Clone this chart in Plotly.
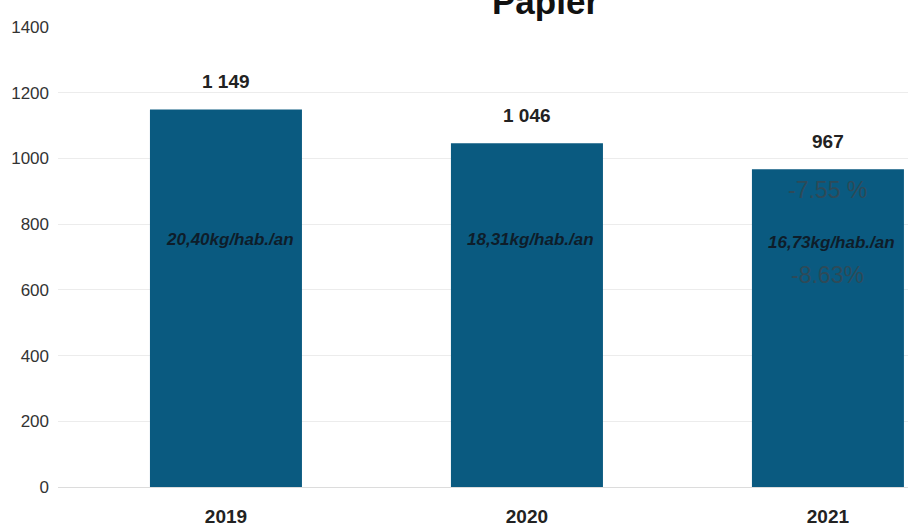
import plotly.graph_objects as go

# Tonnage de papier collecté par année
years = ["2019", "2020", "2021"]
tonnes = [1149, 1046, 967]
value_labels = ["1 149", "1 046", "967"]
per_capita = ["20,40kg/hab./an", "18,31kg/hab./an", "16,73kg/hab./an"]
per_capita_y = [752, 752, 743]
y_ticks = [0, 200, 400, 600, 800, 1000, 1200, 1400]

bar_color = "#0a5a80"
narrow = "Liberation Sans Narrow, Arial Narrow, sans-serif"

fig = go.Figure()
fig.add_trace(go.Bar(
    x=list(range(len(years))), y=tonnes, width=0.505,
    marker=dict(color=bar_color, line=dict(width=0)),
    hoverinfo="skip",
))

annotations = []
for i, (v, lab) in enumerate(zip(tonnes, value_labels)):
    annotations.append(dict(
        x=i, y=v, xref="x", yref="y", text=f"<b>{lab}</b>", showarrow=False,
        yanchor="bottom", yshift=15,
        font=dict(family=narrow, size=19, color="#222222"),
    ))
for i, (yy, lab) in enumerate(zip(per_capita_y, per_capita)):
    annotations.append(dict(
        x=i, y=yy, xref="x", yref="y", text=f"<b><i>{lab}</i></b>",
        showarrow=False, xshift=4,
        font=dict(family=narrow, size=17, color="#0e1d2a"),
    ))
# Variations annuelles
annotations.append(dict(x=2, y=904, xref="x", yref="y", text="-7.55 %",
                        showarrow=False,
                        font=dict(family="Liberation Sans, Arial, sans-serif",
                                  size=23, color="#2e4a58")))
annotations.append(dict(x=2, y=645, xref="x", yref="y", text="-8.63%",
                        showarrow=False,
                        font=dict(family="Liberation Sans, Arial, sans-serif",
                                  size=23, color="#2e4a58")))
# Titre
annotations.append(dict(xref="paper", yref="paper", x=0.573, y=1.0,
                        yshift=4, text="<b>Papier</b>", showarrow=False,
                        xanchor="center", yanchor="bottom",
                        font=dict(family="Liberation Sans, Arial, sans-serif",
                                  size=35, color="#111111")))

fig.update_layout(
    width=908, height=528,
    margin=dict(l=58, r=0, t=27, b=41),
    paper_bgcolor="white", plot_bgcolor="white",
    showlegend=False,
    annotations=annotations,
    xaxis=dict(
        range=[-0.558, 2.266],
        tickvals=list(range(len(years))), ticktext=years,
        showgrid=False, showline=False, zeroline=False, ticks="",
        tickfont=dict(family=narrow, size=19, color="#222222", weight="bold"),
        ticklabelstandoff=16,
    ),
    yaxis=dict(
        range=[0, 1400], tickvals=y_ticks,
        showgrid=True, gridcolor="#ececec", gridwidth=1,
        zeroline=True, zerolinecolor="#dcdcdc", zerolinewidth=1,
        showline=False, ticks="",
        tickfont=dict(family=narrow, size=17, color="#333333"),
        ticklabelstandoff=8,
    ),
)

fig.write_html("out.html")
